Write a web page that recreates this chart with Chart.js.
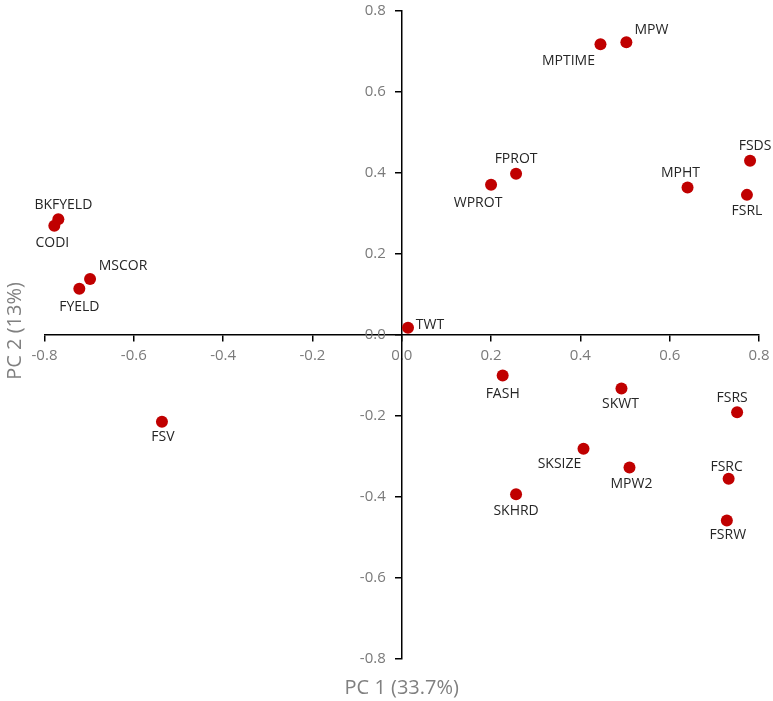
<!DOCTYPE html>
<html>
<head>
<meta charset="utf-8">
<script src="https://cdn.jsdelivr.net/npm/chart.js@4"></script>
<style>
html,body{margin:0;padding:0;background:#fff;}
#wrap{width:773px;height:701px;position:relative;}
</style>
</head>
<body>
<div id="wrap"><canvas id="c" width="773" height="701"></canvas></div>
<script>
// ---- data ----
const traitNames = ["MPW","MPTIME","FSDS","MPHT","FSRL","FPROT","WPROT","TWT","BKFYELD","CODI","MSCOR","FYELD","FSV","FASH","SKWT","FSRS","SKSIZE","MPW2","FSRC","SKHRD","FSRW"];
const pc1Values = [0.503,0.445,0.780,0.640,0.773,0.256,0.200,0.014,-0.769,-0.778,-0.698,-0.722,-0.537,0.226,0.492,0.751,0.407,0.510,0.732,0.256,0.728];
const pc2Values = [0.723,0.718,0.430,0.364,0.346,0.398,0.371,0.018,0.286,0.270,0.138,0.114,-0.214,-0.100,-0.132,-0.191,-0.281,-0.327,-0.355,-0.393,-0.458];
const axisTitleX = "PC 1 (33.7%)";
const axisTitleY = "PC 2 (13%)";

// ---- label placement (style only: offset of label centre from its point, px) ----
const labelOffsets = [[25,-12],[-32,17],[5,-15],[-7,-15],[0,16],[0,-15],[-13,18],[22,-3],[5,-14],[-2,17],[33,-13],[0,18],[1,15],[0,19],[-1,16],[-5,-14],[-24,15],[2,17],[-2,-12],[0,17],[1,15]];

const points = pc1Values.map((x,i)=>({x:x,y:pc2Values[i]}));

const labelPlugin = {
  id:'pointLabels',
  afterDatasetsDraw(chart){
    const ctx = chart.ctx;
    const meta = chart.getDatasetMeta(0);
    ctx.save();
    ctx.font = '14px "Open Sans", "Noto Sans", sans-serif';
    ctx.fillStyle = '#262626';
    ctx.textAlign = 'center';
    ctx.textBaseline = 'middle';
    meta.data.forEach((el,i)=>{
      const o = labelOffsets[i];
      ctx.fillText(traitNames[i], el.x + o[0], el.y + o[1]);
    });
    ctx.restore();
  }
};

// shift the y tick labels clear of the centred axis (tick length + padding)
const yLabelShift = {
  id:'yLabelShift',
  beforeDraw(chart){
    const s = chart.scales.y;
    s._labelItems = null;
    const items = s.getLabelItems(chart.chartArea);
    items.forEach(it=>{ it.options.translation[0] -= 16; });
  }
};

const titlePlugin = {
  id:'axisTitles',
  afterDraw(chart){
    const ctx = chart.ctx;
    const a = chart.chartArea;
    ctx.save();
    ctx.font = '20px "Open Sans", "Noto Sans", sans-serif';
    ctx.fillStyle = '#808080';
    ctx.textAlign = 'center';
    ctx.textBaseline = 'middle';
    ctx.fillText(axisTitleX, chart.scales.x.getPixelForValue(0), a.bottom + 29);
    ctx.translate(15, chart.scales.y.getPixelForValue(0) - 4);
    ctx.rotate(-Math.PI/2);
    ctx.fillText(axisTitleY, 0, 0);
    ctx.restore();
  }
};

const tickFont = {family:'"Open Sans", "Noto Sans", sans-serif', size:15};

new Chart(document.getElementById('c'), {
  type:'scatter',
  data:{datasets:[{
    data:points,
    backgroundColor:'#C00000',
    borderWidth:0,
    pointRadius:6,
    pointHoverRadius:6
  }]},
  options:{
    responsive:false,
    animation:false,
    events:[],
    layout:{padding:{left:44.5,right:14,top:11,bottom:42}},
    plugins:{legend:{display:false},tooltip:{enabled:false}},
    scales:{
      x:{
        type:'linear',
        position:{y:0},
        min:-0.8,max:0.8,
        afterFit(s){s.height=0;s.paddingLeft=0;s.paddingRight=0;s.paddingTop=0;s.paddingBottom=0;},
        ticks:{stepSize:0.2,color:'#7a7a7a',font:tickFont,padding:6,
          callback:v=>(Math.abs(v)<1e-9?0:v).toFixed(1)},
        grid:{drawOnChartArea:false,drawTicks:true,tickLength:6,color:'#000',lineWidth:1.5},
        border:{display:true,color:'#000',width:1.5}
      },
      y:{
        type:'linear',
        position:{x:0},
        min:-0.8,max:0.8,
        afterFit(s){s.width=0;s.paddingLeft=0;s.paddingRight=0;s.paddingTop=0;s.paddingBottom=0;},
        ticks:{stepSize:0.2,color:'#7a7a7a',font:tickFont,padding:8,
          callback:v=>(Math.abs(v)<1e-9?0:v).toFixed(1)},
        grid:{drawOnChartArea:false,drawTicks:true,tickLength:6,color:'#000',lineWidth:1.5},
        border:{display:true,color:'#000',width:1.5}
      }
    }
  },
  plugins:[yLabelShift,labelPlugin,titlePlugin]
});
</script>
</body>
</html>
